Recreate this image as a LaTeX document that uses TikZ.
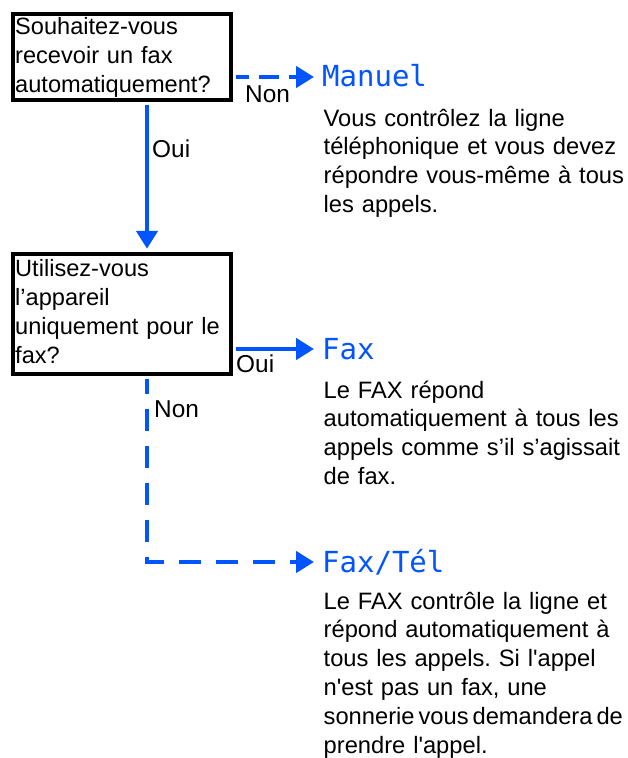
\documentclass[tikz,border=0pt]{standalone}
\usepackage{fontspec}
\setmainfont{Liberation Sans}
\newfontfamily\lcdfont{DejaVu Sans Mono}
\usetikzlibrary{arrows.meta}
\definecolor{flowblue}{RGB}{0,85,255}
\frenchspacing
\begin{document}
\begin{tikzpicture}[x=1pt,y=-1pt,
  qbox/.style={draw=black, line width=4.5pt, inner sep=0pt, anchor=north west},
  boxtext/.style={font=\fontsize{23.6}{29}\selectfont, inner sep=0pt, anchor=base west, align=left, text width=215pt},
  body/.style={font=\fontsize{23.7}{28.8}\selectfont, inner sep=0pt, anchor=base west, align=left, text width=320pt},
  lbl/.style={font=\fontsize{24.4}{28.8}\selectfont, inner sep=0pt, anchor=base west},
  mode/.style={font=\lcdfont\fontsize{29}{30}\selectfont, text=flowblue, inner sep=0pt, anchor=base west},
  flow/.style={draw=flowblue, line width=4.5pt, -{Triangle[length=18pt,width=21pt]}},
  dashA/.style={flow, dash pattern=on 20pt off 10pt, dash phase=7pt},
  dashB/.style={flow, dash pattern=on 22pt off 15pt, dash phase=7pt}
]
\useasboundingbox (0,0) rectangle (627,758);

% question boxes
\node[qbox, minimum width=218.25pt, minimum height=86.25pt] (q1) at (10.5,11.5) {};
\node[qbox, minimum width=218.25pt, minimum height=120pt] (q2) at (10.5,251.75) {};
\node[boxtext] (q1t) at (15,34.5) {Souhaitez-vous\\recevoir un fax\\automatiquement?};
\node[boxtext] (q2t) at (15,276) {Utilisez-vous\\l’appareil\\uniquement pour le\\fax?};

% mode labels
\node[mode] (m1) at (322,86) {Manuel};
\node[mode] (f1) at (322,359) {Fax};
\node[mode] (f2) at (322,572) {Fax/Tél};

% descriptions
\node[body] (t1) at (323.5,126) {Vous contrôlez la ligne\\téléphonique et vous devez\\répondre vous-même à tous\\les appels.};
\node[body] (t2) at (323.5,398) {Le FAX répond\\automatiquement à tous les\\appels comme s’il s’agissait\\de fax.};
\node[body] (t3) at (323.5,609) {Le FAX contrôle la ligne et\\répond automatiquement à\\tous les appels. Si l\textquotesingle appel\\n\textquotesingle est pas un fax, une\\{\spaceskip=4pt sonnerie vous demandera de}\\prendre l\textquotesingle appel.};

% connector labels
\node[lbl] (non1) at (245,102) {Non};
\node[lbl] (oui1) at (152,157) {Oui};
\node[lbl] (oui2) at (236,372) {Oui};
\node[lbl] (non2) at (154,417) {Non};

% connectors
\coordinate (q1out) at ([yshift=-65.5pt]q1.north east);
\coordinate (q1down) at ([xshift=136.5pt]q1.south west);
\coordinate (q2in) at ([xshift=136.5pt]q2.north west);
\coordinate (q2out) at ([yshift=-97.25pt]q2.north east);
\coordinate (q2down) at ([xshift=136.5pt]q2.south west);
\coordinate (corner) at (147,562);

\draw[dashA, shorten <=2.25pt, shorten >=8pt] (q1out) -- (q1out -| m1.west);
\draw[flow, shorten <=2.25pt, shorten >=3pt] (q1down) -- (q2in);
\draw[flow, shorten <=2.25pt, shorten >=8pt] (q2out) -- (q2out -| f1.west);
\draw[dashB, shorten <=2.25pt, shorten >=8pt] (q2down) -- (corner) -- (corner -| f2.west);
\end{tikzpicture}
\end{document}
